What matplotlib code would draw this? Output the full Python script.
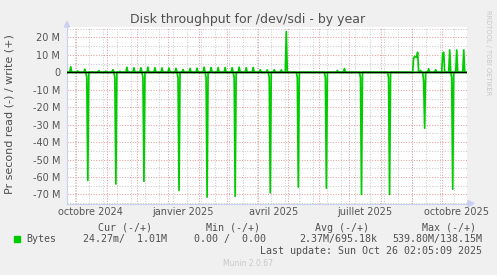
"""Munin style yearly disk throughput chart for /dev/sdi."""
import numpy as np
import pandas as pd
import matplotlib
matplotlib.use('Agg')
import matplotlib.pyplot as plt
import matplotlib.dates as mdates
from matplotlib.patches import Polygon, Rectangle

# Write (+) samples, MB/s, one value per day.
write_dates = ['2024-09-26', '2024-10-03', '2024-10-10', '2024-10-17', '2024-10-24',
               '2024-10-31', '2024-11-07', '2024-11-14', '2024-11-21', '2024-11-28',
               '2024-12-05', '2024-12-12', '2024-12-19', '2024-12-26', '2025-01-02',
               '2025-01-09', '2025-01-16', '2025-01-23', '2025-01-30', '2025-02-06',
               '2025-02-13', '2025-02-20', '2025-02-27', '2025-03-06', '2025-03-13',
               '2025-03-20', '2025-03-27', '2025-04-03', '2025-04-10', '2025-04-17',
               '2025-04-24', '2025-04-29', '2025-06-19', '2025-06-26',
               '2025-09-03', '2025-09-04', '2025-09-05', '2025-09-06', '2025-09-07',
               '2025-09-08', '2025-09-10', '2025-09-18', '2025-09-25',
               '2025-10-02', '2025-10-03', '2025-10-09', '2025-10-16', '2025-10-23']
write_vals = [3.2, 0.8, 1.8, 0.2, 1.0,
              0.6, 1.5, 0.6, 2.9, 2.6,
              2.6, 3.0, 2.6, 2.5, 2.5,
              2.3, 1.6, 2.3, 2.4, 3.0,
              2.8, 2.7, 2.8, 2.7, 3.0,
              2.6, 2.8, 1.5, 1.4, 1.5,
              1.4, 23.3, 1.0, 2.2,
              8.0, 9.2, 9.0, 8.6, 11.5,
              0.4, 1.0, 2.0, 1.5,
              10.8, 11.5, 12.8, 12.8, 12.8]

# Read (-) spikes: monthly scrub on the second Sunday, MB/s.
read_dates = ['2024-10-13', '2024-11-10', '2024-12-08', '2025-01-12', '2025-02-09',
              '2025-03-09', '2025-04-13', '2025-05-11', '2025-06-08', '2025-07-13',
              '2025-08-10', '2025-09-14', '2025-10-12']
read_vals = [62.0, 64.0, 62.5, 67.7, 71.5,
             71.0, 69.0, 65.8, 66.4, 70.0,
             70.0, 32.0, 67.0]
read_lead = [3.0, 3.0, 3.0, 3.0, 3.0,
             3.0, 3.0, 3.0, 3.0, 3.0,
             3.0, 5.0, 3.0]  # value on the day before each spike

yticks = [20, 10, 0, -10, -20, -30, -40, -50, -60, -70]
xtick_dates = ['2024-10-16', '2025-01-16', '2025-04-16', '2025-07-16', '2025-10-16']
xtick_labels = ['octobre 2024', 'janvier 2025', 'avril 2025', 'juillet 2025', 'octobre 2025']

legend_head = ['Cur (-/+)', 'Min (-/+)', 'Avg (-/+)', 'Max (-/+)']
legend_vals = ['24.27m/  1.01M', '0.00 /  0.00', '2.37M/695.18k', '539.80M/138.15M']
last_update = 'Last update: Sun Oct 26 02:05:09 2025'

days = pd.date_range('2024-09-21', '2025-10-26', freq='D')
write = pd.Series(0.0, index=days)
write[pd.to_datetime(write_dates)] = write_vals
read = pd.Series(0.0, index=days)
rd = pd.to_datetime(read_dates)
read[rd - pd.Timedelta(days=1)] = -np.array(read_lead)
read[rd] = -np.array(read_vals)

W, H = 497, 275
fig = plt.figure(figsize=(W / 100, H / 100), dpi=100, facecolor='#f0f0f0')
ax = fig.add_axes([67 / W, 1 - 203.5 / H, 400 / W, (203.5 - 27) / H])
ax.set_facecolor('white')

ax.set_xlim(mdates.date2num(pd.Timestamp('2024-09-22 06:00')),
            mdates.date2num(pd.Timestamp('2025-10-26 06:00')))
ax.set_ylim(-75.2, 26)

# grid: minor gray every 5 M / two weeks, major red every 10 M / month
dot = (0, (1, 1.5))
minor_c, major_c = '#cccccc', '#e4a0a0'
for v in np.arange(-75, 30, 5):
    ax.axhline(v, color=major_c if v % 10 == 0 else minor_c, lw=0.75, ls=dot, zorder=1)
for d in pd.date_range('2024-09-30', '2025-10-26', freq='14D'):
    ax.axvline(mdates.date2num(d), color=minor_c, lw=0.75, ls=dot, zorder=1)
for d in pd.date_range('2024-10-01', '2025-10-26', freq='MS'):
    ax.axvline(mdates.date2num(d), color=major_c, lw=0.75, ls=dot, zorder=1)

ax.plot(mdates.date2num(days), write.values, color='#00cc00', lw=1.25, zorder=3)
ax.plot(mdates.date2num(days), read.values, color='#00cc00', lw=1.25, zorder=3)
ax.axhline(0, color='black', lw=1.0, zorder=4)

ax.set_yticks(yticks)
ax.set_yticklabels(['0' if v == 0 else f'{v} M' for v in yticks])
ax.set_xticks(mdates.date2num(pd.to_datetime(xtick_dates)))
ax.set_xticklabels(xtick_labels)
ax.tick_params(axis='both', length=0, labelsize=7, colors='#555555')
ax.tick_params(axis='y', pad=5)
ax.tick_params(axis='x', pad=2.5)

for s in ('top', 'right'):
    ax.spines[s].set_visible(False)
for s in ('left', 'bottom'):
    ax.spines[s].set_color('#c8cff0')
    ax.spines[s].set_linewidth(0.8)


def px(x, y):
    return (x / W, 1 - y / H)


# axis arrows
fig.add_artist(Polygon([px(64.5, 27), px(69.5, 27), px(67, 21.5)], closed=True,
                       color='#c8cff0', transform=fig.transFigure))
fig.add_artist(Polygon([px(468, 200.5), px(468, 206.5), px(474, 203.5)], closed=True,
                       color='#c8cff0', transform=fig.transFigure))

fig.text(*px(248, 19), 'Disk throughput for /dev/sdi - by year', ha='center',
         va='center', fontsize=9, color='#505050')
fig.text(*px(10, 114), 'Pr second read (-) / write (+)', rotation=90, ha='center',
         va='center', fontsize=8, color='#505050')
fig.text(*px(488, 53), 'RRDTOOL / TOBI OETIKER', rotation=270, ha='center',
         va='center', fontsize=4.8, color='#c8c8c8')

mono = dict(family='DejaVu Sans Mono', fontsize=7.2, color='#505050', va='center')
for x, t in zip([124.7, 233.3, 341.7, 449.3], legend_head):
    fig.text(*px(x, 227.7), t, ha='center', **mono)
fig.add_artist(Rectangle(px(14, 242), 6 / W, 6 / H, color='#00cc00',
                         transform=fig.transFigure))
fig.text(*px(26.7, 239.3), 'Bytes', ha='left', **mono)
for x, t in zip([83.3, 194.3, 299.3, 392.3], legend_vals):
    fig.text(*px(x, 239.3), t, ha='left', **mono)
fig.text(*px(482.5, 251), last_update, ha='right', **mono)
fig.text(*px(248, 264), 'Munin 2.0.67', ha='center', va='center', fontsize=5.5,
         color='#c8c8c8')

fig.savefig('out.png', dpi=100, facecolor=fig.get_facecolor())
